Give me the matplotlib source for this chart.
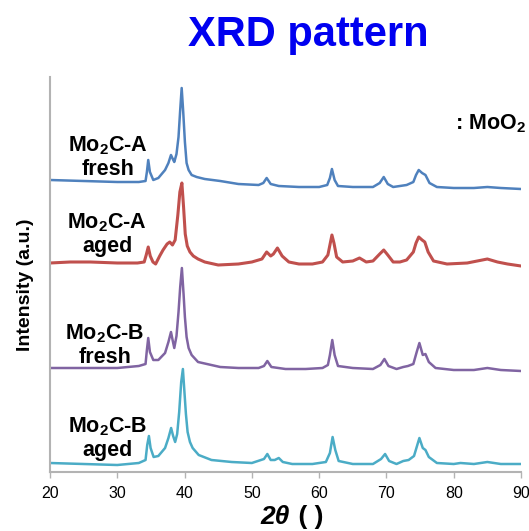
import matplotlib
matplotlib.use('Agg')
import matplotlib.pyplot as plt

plt.rcParams['font.family'] = ['Liberation Sans', 'DejaVu Sans']
plt.rcParams['mathtext.fontset'] = 'custom'
plt.rcParams['mathtext.rm'] = 'Liberation Sans:bold'
plt.rcParams['mathtext.bf'] = 'Liberation Sans:bold'

# 2theta / intensity (a.u., stacked)
a_fresh_x = [20, 25, 30, 33.2, 34.2, 34.4, 34.6, 34.85, 35.35, 36.1, 37.1, 37.6, 37.98, 38.25, 38.47,
             38.8, 39.1, 39.35, 39.57, 39.8, 40.05, 40.3, 40.6, 41.05, 41.8, 43, 45.3, 48, 51,
             51.7, 52.2, 52.8, 54, 57, 60, 61.2, 61.6, 61.9, 62.3, 62.8, 65, 68, 69.0, 69.6,
             70.2, 71, 72, 73, 74, 74.4, 74.8, 75.3, 75.8, 76.4, 77.5, 80, 83, 85, 87, 90]
a_fresh_y = [292, 291, 290, 290, 291, 300, 312, 300, 292, 294, 302, 309, 317, 313, 310,
             318, 335, 362, 384, 360, 330, 309, 302, 297, 295, 293, 291, 288, 287,
             289, 294, 288, 286, 285, 285, 287, 294, 303, 292, 286, 285, 285, 289, 295,
             288, 285, 286, 287, 290, 297, 302, 299, 297, 289, 285, 284, 284, 285, 284, 283]

a_aged_x = [20, 23, 26, 30, 33, 34.0, 34.3, 34.6, 34.9, 35.3, 35.7, 36.3, 36.8, 37.4, 37.8,
            38.2, 38.6, 39.0, 39.3, 39.6, 39.85, 40.1, 40.4, 40.8, 41.3, 42, 43, 45, 48, 50,
            51.5, 52.2, 52.8, 53.2, 53.8, 54.5, 55.5, 57, 59, 60.5, 61.3, 61.6, 61.9, 62.2,
            62.6, 63.5, 65, 66, 67, 68, 69.0, 69.6, 70.2, 71, 72, 73, 74, 74.4, 74.8, 75.3,
            75.7, 76.2, 77, 79, 82, 85, 86.5, 88, 90]
a_aged_y = [209, 210, 210, 209, 209, 210, 217, 225, 216, 210, 208, 216, 222, 228, 230,
            227, 232, 257, 280, 289, 265, 238, 226, 220, 216, 213, 210, 207, 208, 210,
            213, 220, 216, 218, 224, 216, 210, 208, 208, 210, 217, 227, 237, 229,
            215, 210, 211, 214, 210, 211, 218, 222, 217, 210, 210, 212, 220, 229, 235, 232,
            230, 220, 211, 208, 209, 213, 210, 208, 206]

b_fresh_x = [20, 25, 30, 33.2, 34.2, 34.4, 34.6, 34.85, 35.35, 36.1, 37.1, 37.6, 37.98, 38.25,
             38.47, 38.8, 39.1, 39.35, 39.6, 39.85, 40.05, 40.3, 40.6, 41.05, 42, 45.3, 48, 51,
             51.8, 52.3, 52.9, 55, 58, 60.5, 61.3, 61.6, 61.95, 62.3, 62.8, 65, 68, 69.1, 69.7,
             70.3, 71.5, 72.5, 73.2, 74.0, 74.5, 74.9, 75.4, 75.8, 76.3, 77.3, 80, 83, 85, 87, 90]
b_fresh_y = [104, 104, 104, 106, 108, 122, 134, 120, 112, 112, 119, 130, 140, 131,
             124, 136, 160, 185, 204, 178, 155, 135, 124, 117, 110, 105, 104, 104,
             106, 111, 105, 103, 103, 104, 107, 117, 132, 117, 106, 104, 103, 107, 113,
             106, 103, 105, 106, 108, 120, 129, 117, 118, 110, 104, 102, 102, 104, 102, 101]

b_aged_x = [20, 25, 30, 33.2, 34.2, 34.45, 34.7, 34.95, 35.4, 36.1, 37.1, 37.6, 38.0, 38.3, 38.6,
            38.9, 39.2, 39.5, 39.75, 40.0, 40.2, 40.45, 40.8, 41.2, 42.1, 44, 47, 50, 51.8, 52.3,
            52.8, 53.4, 54.0, 54.6, 56, 59, 61.0, 61.6, 62.0, 62.4, 62.9, 65, 68, 69.2, 69.8,
            70.4, 71.5, 72.5, 73.3, 74.1, 74.5, 74.9, 75.4, 75.8, 76.3, 77.5, 80, 81, 83, 85,
            87, 90]
b_aged_y = [9, 8, 7, 9, 12, 27, 36, 24, 15, 16, 24, 34, 44, 36, 30,
            38, 60, 90, 103, 78, 58, 40, 30, 24, 17, 12, 10, 9, 13, 18,
            12, 12, 14, 10, 8, 8, 10, 19, 35, 22, 11, 8, 8, 13, 18,
            11, 8, 11, 12, 16, 25, 34, 24, 22, 15, 9, 8, 9, 8, 10, 8, 8]

colors = ['#4F81BD', '#C0504D', '#8064A2', '#4BACC6']
widths = [1.8, 2.2, 1.8, 1.8]
labels = ['Mo$_{2}$C-A\nfresh', 'Mo$_{2}$C-A\naged', 'Mo$_{2}$C-B\nfresh', 'Mo$_{2}$C-B\naged']
label_x = [28.6, 28.5, 28.2, 28.6]
label_y = [315, 238, 127, 34]

fig = plt.figure(figsize=(5.29, 5.31), dpi=100)
ax = fig.add_axes([50/529, 1-472/531, 471/529, 395/531])

series = [(a_fresh_x, a_fresh_y), (a_aged_x, a_aged_y), (b_fresh_x, b_fresh_y), (b_aged_x, b_aged_y)]
for (xs, ys), c, w in zip(series, colors, widths):
    ax.plot(xs, ys, color=c, lw=w, solid_joinstyle='round')

for t, lx, ly in zip(labels, label_x, label_y):
    ax.text(lx, ly, t, ha='center', va='center', fontsize=15.5, fontweight='bold',
            linespacing=1.1)

ax.text(80.2, 348, ': MoO$_{2}$', ha='left', va='center', fontsize=15.5, fontweight='bold',
        clip_on=False)

ax.set_xlim(20, 90)
ax.set_ylim(0, 395)
ax.set_xticks([20, 30, 40, 50, 60, 70, 80, 90])
ax.set_yticks([])
for s in ['top', 'right']:
    ax.spines[s].set_visible(False)
for s in ['left', 'bottom']:
    ax.spines[s].set_color('#b3b3b3')
    ax.spines[s].set_linewidth(1.5)
ax.tick_params(axis='x', direction='out', length=4, width=1, color='#b3b3b3',
               labelsize=11.5, pad=6)

fig.text(308/529, 1-46/531, 'XRD pattern', ha='center', va='baseline', fontsize=30,
         fontweight='bold', color='#0000F0')
fig.text(25/529, 1-285/531, 'Intensity (a.u.)', rotation=90, ha='center', va='center',
         fontsize=14, fontweight='bold')
fig.text(290/529, 1-524/531, '2θ', ha='right', va='baseline', fontsize=19,
         fontweight='bold', fontstyle='italic')
fig.text(291/529, 1-524/531, ' ( )', ha='left', va='baseline', fontsize=19,
         fontweight='bold')

fig.savefig('out.png', dpi=100)
